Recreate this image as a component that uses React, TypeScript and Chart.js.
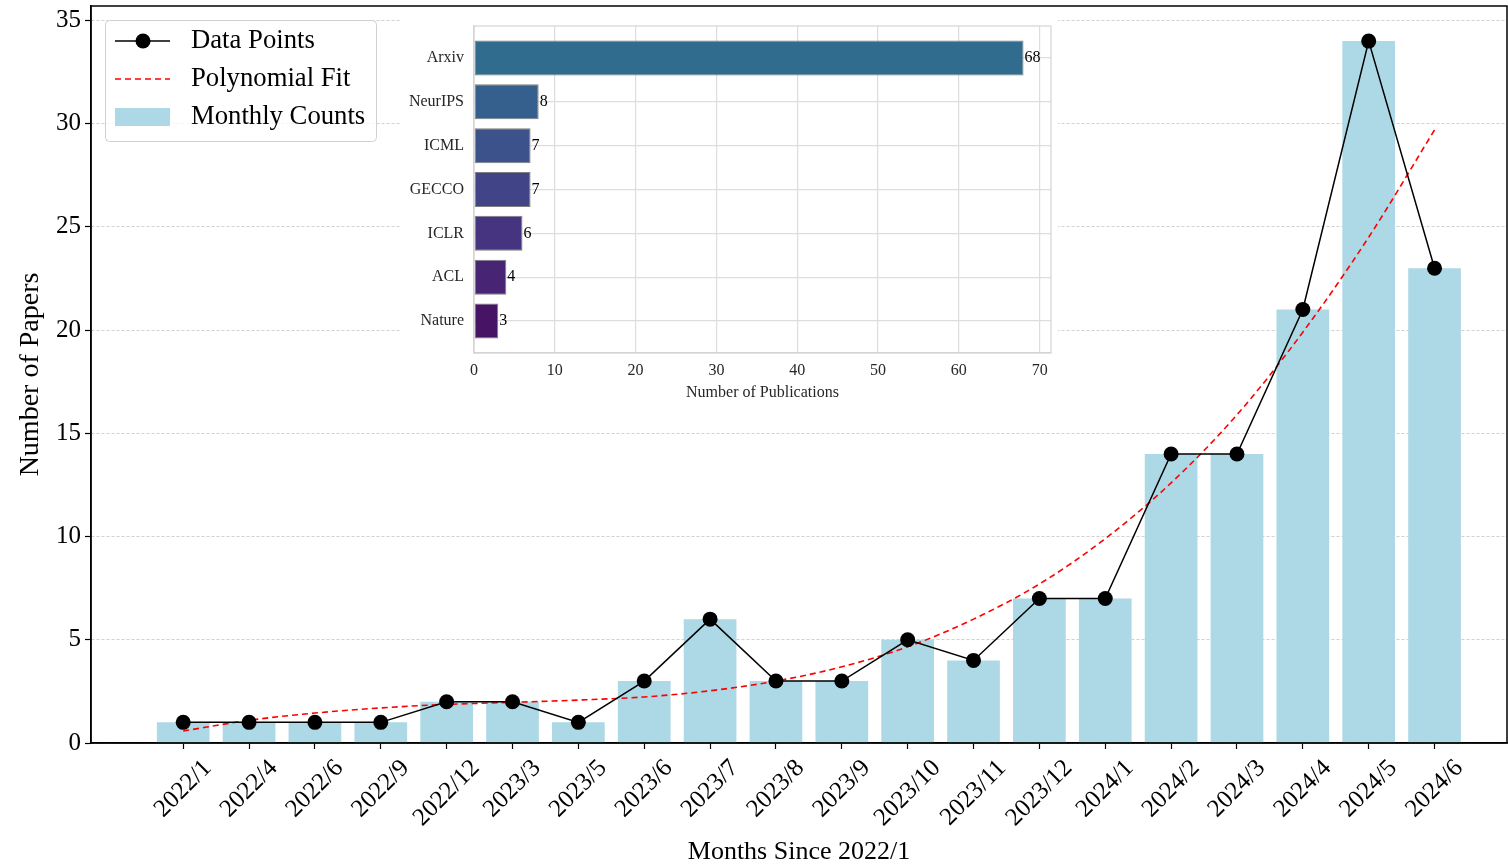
import React, { useEffect, useRef } from "react";
import { Chart, registerables } from "chart.js";

Chart.register(...registerables);

const FONT = '"Liberation Serif", "Times New Roman", serif';

// ---- main chart data ----
const months = [
  "2022/1", "2022/4", "2022/6", "2022/9", "2022/12", "2023/3", "2023/5", "2023/6", "2023/7", "2023/8",
  "2023/9", "2023/10", "2023/11", "2023/12", "2024/1", "2024/2", "2024/3", "2024/4", "2024/5", "2024/6",
];
const monthlyCounts = [1, 1, 1, 1, 2, 2, 1, 3, 6, 3, 3, 5, 4, 7, 7, 14, 14, 21, 34, 23];
const polyFit = [
  0.58, 1.1, 1.45, 1.7, 1.87, 1.97, 2.08, 2.23, 2.53, 3.0,
  3.69, 4.66, 6.0, 7.7, 9.9, 12.6, 15.9, 19.9, 24.5, 29.7,
];
const yTicks = [0, 5, 10, 15, 20, 25, 30, 35];

// ---- inset data ----
const venues = ["Arxiv", "NeurIPS", "ICML", "GECCO", "ICLR", "ACL", "Nature"];
const venueCounts = [68, 8, 7, 7, 6, 4, 3];
const venueColors = ["#2f6c8e", "#355f8d", "#3b528b", "#414487", "#463480", "#482475", "#471365"];
const pubTicks = [0, 10, 20, 30, 40, 50, 60, 70];

const zeroPad = (s: any) => {
  s.paddingTop = 0;
  s.paddingBottom = 0;
  s.paddingLeft = 0;
  s.paddingRight = 0;
};

const framePlugin = {
  id: "frame",
  afterDatasetsDraw(chart: any, _args: any, opts: any) {
    const { ctx, chartArea } = chart;
    ctx.save();
    ctx.strokeStyle = opts.color || "#000";
    ctx.lineWidth = opts.width || 1.5;
    ctx.strokeRect(chartArea.left, chartArea.top, chartArea.right - chartArea.left, chartArea.bottom - chartArea.top);
    ctx.restore();
  },
};

const xLabelPlugin = {
  id: "xLabels",
  afterDraw(chart: any) {
    const { ctx } = chart;
    const xs = chart.scales.x;
    ctx.save();
    ctx.font = `25px ${FONT}`;
    ctx.fillStyle = "#000";
    ctx.textAlign = "center";
    ctx.textBaseline = "middle";
    const top = xs.top + 6 + 5;
    const h = 29;
    months.forEach((m, i) => {
      const x = xs.getPixelForValue(i);
      const w = ctx.measureText(m).width;
      const cy = top + ((w + h) * Math.SQRT1_2) / 2;
      ctx.save();
      ctx.translate(x, cy);
      ctx.rotate(-Math.PI / 4);
      ctx.fillText(m, 0, 0);
      ctx.restore();
    });
    ctx.restore();
  },
};

const legendPlugin = {
  id: "customLegend",
  afterDraw(chart: any) {
    const { ctx } = chart;
    const ds = chart.data.datasets;
    const x0 = 105, y0 = 20, w = 271, h = 121;
    ctx.save();
    ctx.fillStyle = "rgba(255,255,255,0.8)";
    ctx.strokeStyle = "#d0d0d0";
    ctx.lineWidth = 1;
    ctx.beginPath();
    (ctx as any).roundRect(x0 + 0.5, y0 + 0.5, w, h, 4);
    ctx.fill();
    ctx.stroke();
    const rows = [41, 79, 117];
    ctx.font = `26.7px ${FONT}`;
    ctx.textBaseline = "middle";
    ctx.textAlign = "left";
    ds.forEach((d: any, i: number) => {
      const cy = rows[i];
      if (d.type === "line" && d.pointRadius > 0) {
        ctx.strokeStyle = d.borderColor;
        ctx.lineWidth = d.borderWidth;
        ctx.setLineDash([]);
        ctx.beginPath();
        ctx.moveTo(115, cy);
        ctx.lineTo(170, cy);
        ctx.stroke();
        ctx.fillStyle = d.pointBackgroundColor;
        ctx.beginPath();
        ctx.arc(143, cy, d.pointRadius, 0, Math.PI * 2);
        ctx.fill();
      } else if (d.type === "line") {
        ctx.strokeStyle = d.borderColor;
        ctx.lineWidth = d.borderWidth;
        ctx.setLineDash(d.borderDash);
        ctx.beginPath();
        ctx.moveTo(115, cy);
        ctx.lineTo(170, cy);
        ctx.stroke();
        ctx.setLineDash([]);
      } else {
        ctx.fillStyle = d.backgroundColor;
        ctx.fillRect(115, cy - 9, 55, 18);
      }
      ctx.fillStyle = "#000";
      ctx.fillText(d.label, 191, cy);
    });
    ctx.restore();
  },
};

const valueLabelPlugin = {
  id: "valueLabels",
  afterDatasetsDraw(chart: any) {
    const { ctx } = chart;
    const meta = chart.getDatasetMeta(0);
    ctx.save();
    ctx.font = `16px ${FONT}`;
    ctx.fillStyle = "#000";
    ctx.textAlign = "left";
    ctx.textBaseline = "middle";
    meta.data.forEach((el: any, i: number) => {
      ctx.fillText(String(venueCounts[i]), el.x + 1, el.y);
    });
    ctx.restore();
  },
};

export default function App() {
  const mainRef = useRef<HTMLCanvasElement>(null);
  const insetRef = useRef<HTMLCanvasElement>(null);

  useEffect(() => {
    document.body.style.margin = "0";
    const main = new Chart(mainRef.current as HTMLCanvasElement, {
      type: "bar",
      data: {
        datasets: [
          {
            type: "line",
            label: "Data Points",
            data: months.map((_, i) => ({ x: i, y: monthlyCounts[i] })),
            borderColor: "#000",
            backgroundColor: "#000",
            borderWidth: 1.5,
            pointRadius: 7.5,
            pointBackgroundColor: "#000",
            pointBorderWidth: 0,
            tension: 0,
            clip: false,
            order: 0,
          } as any,
          {
            type: "line",
            label: "Polynomial Fit",
            data: months.map((_, i) => ({ x: i, y: polyFit[i] })),
            borderColor: "#ff0000",
            borderWidth: 1.6,
            borderDash: [6, 4],
            pointRadius: 0,
            cubicInterpolationMode: "monotone",
            order: 1,
          } as any,
          {
            type: "bar",
            label: "Monthly Counts",
            data: months.map((_, i) => ({ x: i, y: monthlyCounts[i] })),
            backgroundColor: "#add8e6",
            barPercentage: 0.8,
            categoryPercentage: 1,
            order: 2,
          } as any,
        ],
      },
      options: {
        animation: false,
        responsive: false,
        layout: { autoPadding: false, padding: { left: 0, right: 1, top: 6, bottom: 0 } },
        plugins: { legend: { display: false }, tooltip: { enabled: false }, frame: { color: "#000", width: 1.5 } } as any,
        scales: {
          x: {
            type: "linear",
            min: -1.4,
            max: 20.1,
            offset: false,
            afterBuildTicks: (s: any) => {
              s.ticks = months.map((_, i) => ({ value: i }));
            },
            afterFit: (s: any) => {
              s.height = 123;
              zeroPad(s);
            },
            ticks: { display: false },
            grid: { offset: false, drawOnChartArea: false, drawTicks: true, tickLength: 6, tickColor: "#000", tickWidth: 1.2 },
            border: { color: "#000", width: 1.5 },
            title: {
              display: true,
              text: "Months Since 2022/1",
              font: { family: FONT, size: 26 },
              color: "#000",
              padding: { top: 0, bottom: -2 },
            },
          } as any,
          y: {
            type: "linear",
            min: 0,
            max: 35.7,
            afterBuildTicks: (s: any) => {
              s.ticks = yTicks.map((v) => ({ value: v }));
            },
            afterFit: (s: any) => {
              s.width = 91;
              zeroPad(s);
            },
            ticks: { font: { family: FONT, size: 25 }, color: "#000", padding: 4 },
            grid: { color: "#c4c4c4", lineWidth: 0.8, tickColor: "#000", tickLength: 6, tickWidth: 1.2 },
            border: { color: "#000", width: 1.5, dash: [3, 2] },
            title: {
              display: true,
              text: "Number of Papers",
              font: { family: FONT, size: 28 },
              color: "#000",
              padding: { top: 14, bottom: 0 },
            },
          } as any,
        },
      },
      plugins: [framePlugin, xLabelPlugin, legendPlugin],
    });

    const inset = new Chart(insetRef.current as HTMLCanvasElement, {
      type: "bar",
      data: {
        datasets: [
          {
            label: "Publications",
            data: venues.map((_, i) => ({ x: venueCounts[i], y: i })),
            backgroundColor: venueColors,
            borderColor: "#7f7f7f",
            borderWidth: 1,
            borderSkipped: false,
            barPercentage: 0.8,
            categoryPercentage: 1,
          } as any,
        ],
      },
      options: {
        indexAxis: "y",
        animation: false,
        responsive: false,
        layout: { autoPadding: false, padding: { left: 0, top: 14, right: 7, bottom: 0 } },
        plugins: { legend: { display: false }, tooltip: { enabled: false }, frame: { color: "#d4d4d4", width: 1.2 } } as any,
        scales: {
          x: {
            type: "linear",
            min: 0,
            max: 71.4,
            offset: false,
            afterBuildTicks: (s: any) => {
              s.ticks = pubTicks.map((v) => ({ value: v }));
            },
            afterFit: (s: any) => {
              s.height = 51;
              zeroPad(s);
            },
            ticks: { font: { family: FONT, size: 16 }, color: "#262626", padding: 8 },
            grid: { offset: false, color: "#dddddd", lineWidth: 1.2, drawTicks: false },
            border: { color: "#d4d4d4", width: 1.2 },
            title: {
              display: true,
              text: "Number of Publications",
              font: { family: FONT, size: 16 },
              color: "#262626",
              padding: { top: 0, bottom: 2 },
            },
          } as any,
          y: {
            type: "linear",
            reverse: true,
            min: -0.73,
            max: 6.73,
            offset: false,
            afterBuildTicks: (s: any) => {
              s.ticks = venues.map((_, i) => ({ value: i }));
            },
            afterFit: (s: any) => {
              s.width = 74;
              zeroPad(s);
            },
            ticks: {
              callback: (v: any) => venues[v],
              font: { family: FONT, size: 16 },
              color: "#262626",
              padding: 10,
            },
            grid: { offset: false, color: "#dddddd", lineWidth: 1.2, drawTicks: false },
            border: { color: "#d4d4d4", width: 1.2 },
          } as any,
        },
      },
      plugins: [framePlugin, valueLabelPlugin],
    });

    return () => {
      main.destroy();
      inset.destroy();
    };
  }, []);

  return (
    <div style={{ position: "relative", width: 1508, height: 866, background: "#fff" }}>
      <canvas ref={mainRef} width={1508} height={866} style={{ display: "block", position: "absolute", left: 0, top: 0 }} />
      <div style={{ position: "absolute", left: 400, top: 12, width: 658, height: 392, background: "#fff" }}>
        <canvas ref={insetRef} width={658} height={392} style={{ display: "block" }} />
      </div>
    </div>
  );
}
